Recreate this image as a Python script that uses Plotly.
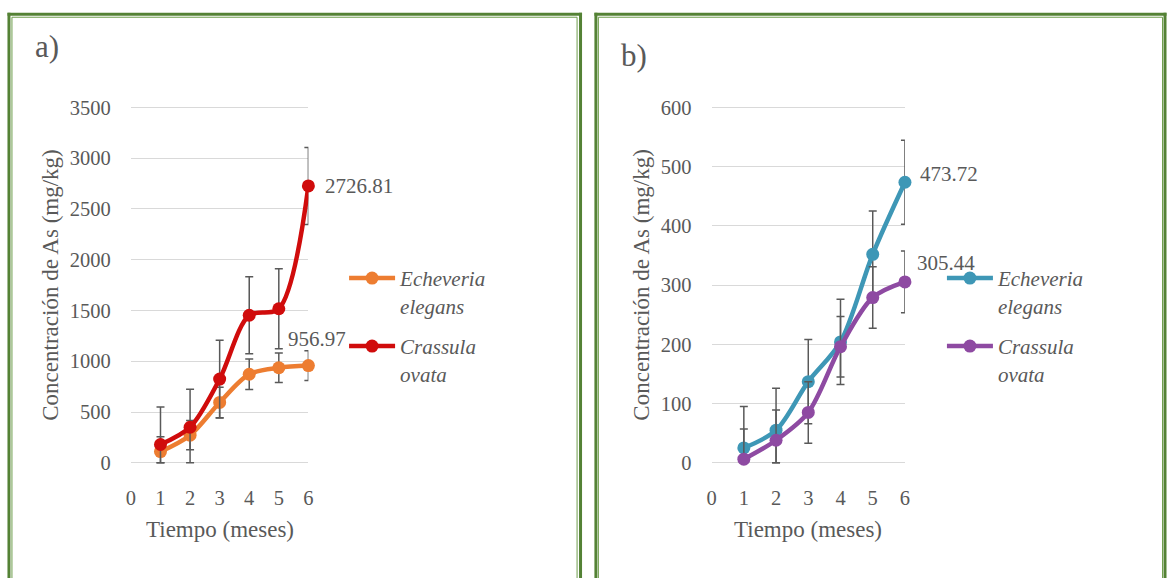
import plotly.graph_objects as go

W, H = 1171, 578

months = [1, 2, 3, 4, 5, 6]
x_ticks = [0, 1, 2, 3, 4, 5, 6]

a_echeveria = [110, 272, 594, 872, 936, 956.97]
a_echeveria_err = [145, 145, 150, 150, 145, 147]
a_crassula = [180, 350, 824, 1453, 1517, 2726.81]
a_crassula_err = [370, 375, 382, 380, 395, 380]

b_echeveria = [25, 55, 137, 204, 352, 473.72]
b_echeveria_err = [70, 71, 71, 72, 73, 71]
b_crassula = [6, 38, 85, 196, 279, 305.44]
b_crassula_err = [51, 51, 52, 51, 52, 52]

a_yticks = [0, 500, 1000, 1500, 2000, 2500, 3000, 3500]
b_yticks = [0, 100, 200, 300, 400, 500, 600]

series_names = ["<i>Echeveria</i><br><i>elegans</i>", "<i>Crassula</i><br><i>ovata</i>"]
y_title = "Concentración de As (mg/kg)"
x_title = "Tiempo (meses)"

FONT = "Liberation Serif"
GREY = "#595959"
C_ORANGE = "#ED7D31"
C_RED = "#D00C0C"
C_BLUE = "#3E97B6"
C_PURPLE = "#8E4AA2"


def px(p):
    return p / W


def py(p):
    return 1 - p / H


fig = go.Figure()


def add_series(y, err, color, name, xa, ya, legend):
    fig.add_trace(go.Scatter(
        x=months, y=y, name=name, mode="lines+markers",
        line=dict(color=color, width=4.5, shape="spline", smoothing=0.9),
        marker=dict(color=color, size=13),
        error_y=dict(type="data", array=err,
                     arrayminus=[min(e, v) for e, v in zip(err, y)],
                     color=GREY, thickness=1.5, width=4),
        xaxis=xa, yaxis=ya, legend=legend, cliponaxis=False,
    ))


add_series(a_echeveria, a_echeveria_err, C_ORANGE, series_names[0], "x", "y", "legend")
add_series(a_crassula, a_crassula_err, C_RED, series_names[1], "x", "y", "legend2")
add_series(b_echeveria, b_echeveria_err, C_BLUE, series_names[0], "x2", "y2", "legend3")
add_series(b_crassula, b_crassula_err, C_PURPLE, series_names[1], "x2", "y2", "legend4")

tickfont = dict(family=FONT, size=20.5, color=GREY)
# 3px of padding so that the gridlines at 0 and at the top are drawn
ydom = [py(470.7), py(99.3)]
pad_a = 3 / 0.1044
pad_b = 3 / 0.609

xcommon = dict(range=[0, 6], tickvals=x_ticks, showgrid=False, zeroline=False,
               showline=False, ticks="outside", ticklen=14,
               tickcolor="rgba(0,0,0,0)", tickfont=tickfont, fixedrange=True)
ycommon = dict(showgrid=True, gridcolor="#D9D9D9", gridwidth=1.3, zeroline=False,
               showline=False, ticks="outside", ticklen=15,
               tickcolor="rgba(0,0,0,0)", tickfont=tickfont, fixedrange=True)

legend_common = dict(xanchor="left", yanchor="top", bgcolor="rgba(0,0,0,0)",
                     font=dict(family=FONT, size=21, color=GREY),
                     valign="top", itemwidth=46, borderwidth=0)

fig.update_layout(
    width=W, height=H, margin=dict(l=0, r=0, t=0, b=0),
    paper_bgcolor="white", plot_bgcolor="white",
    font=dict(family=FONT, color=GREY),
    showlegend=True,
    xaxis=dict(domain=[px(127), px(306)], anchor="y", **xcommon),
    yaxis=dict(domain=ydom, anchor="x", range=[-pad_a, 3500 + pad_a],
               tickvals=a_yticks, **ycommon),
    xaxis2=dict(domain=[px(712.7), px(907.7)], anchor="y2", **xcommon),
    yaxis2=dict(domain=ydom, anchor="x2", range=[-pad_b, 600 + pad_b],
                tickvals=b_yticks, **ycommon),
    legend=dict(x=px(342), y=py(257), **legend_common),
    legend2=dict(x=px(342), y=py(327), **legend_common),
    legend3=dict(x=px(945), y=py(257), **legend_common),
    legend4=dict(x=px(945), y=py(327), **legend_common),
)

ann = []
labfont = dict(family=FONT, size=21, color=GREY)
ann.append(dict(x=months[-1], y=a_crassula[-1], xref="x", yref="y",
                text=f"{a_crassula[-1]:.2f}", showarrow=False, xanchor="left",
                xshift=15, yshift=0, font=labfont))
ann.append(dict(x=months[-1], y=a_echeveria[-1], xref="x", yref="y",
                text=f"{a_echeveria[-1]:.2f}", showarrow=False, xanchor="left",
                xshift=-22, yshift=27, font=labfont))
ann.append(dict(x=months[-1], y=b_echeveria[-1], xref="x2", yref="y2",
                text=f"{b_echeveria[-1]:.2f}", showarrow=False, xanchor="left",
                xshift=13, yshift=8, font=labfont))
ann.append(dict(x=months[-1], y=b_crassula[-1], xref="x2", yref="y2",
                text=f"{b_crassula[-1]:.2f}", showarrow=False, xanchor="left",
                xshift=10, yshift=19, font=labfont))

titlefont = dict(family=FONT, size=23, color=GREY)
for cx, ycx in [(46, 285), (642, 285)]:
    ann.append(dict(x=px(cx), y=py(ycx), xref="paper", yref="paper", text=y_title,
                    textangle=-90, showarrow=False, font=titlefont,
                    xanchor="center", yanchor="middle"))
for cx in [216.5, 810]:
    ann.append(dict(x=px(cx), y=py(536), xref="paper", yref="paper", text=x_title,
                    showarrow=False, font=titlefont, xanchor="center", yanchor="middle"))

panel_font = dict(family=FONT, size=31, color=GREY)
ann.append(dict(x=px(28), y=py(40), xref="paper", yref="paper", text="a)",
                showarrow=False, font=panel_font, xanchor="left", yanchor="middle"))
ann.append(dict(x=px(619), y=py(49), xref="paper", yref="paper", text="b)",
                showarrow=False, font=panel_font, xanchor="left", yanchor="middle"))
fig.update_layout(annotations=ann)

shapes = []
GREEN = "#548235"
GREEN2 = "#6E9E4C"
for (l_out, r_out, l_in, r_in) in [(4, 580.5, 7, 577), (596, 1170, 598.5, 1167.5)]:
    for xv in (l_out, r_out):
        shapes.append(dict(type="line", xref="paper", yref="paper", x0=px(xv), x1=px(xv),
                           y0=py(5), y1=py(600), line=dict(color=GREEN, width=3)))
    shapes.append(dict(type="line", xref="paper", yref="paper", x0=px(l_out - 1.5),
                       x1=px(r_out + 1.5), y0=py(6.5), y1=py(6.5),
                       line=dict(color=GREEN, width=3)))
    for xv in (l_in, r_in):
        shapes.append(dict(type="line", xref="paper", yref="paper", x0=px(xv), x1=px(xv),
                           y0=py(9.5), y1=py(600), line=dict(color=GREEN2, width=1)))
    shapes.append(dict(type="line", xref="paper", yref="paper", x0=px(l_in),
                       x1=px(r_in), y0=py(9.5), y1=py(9.5),
                       line=dict(color=GREEN2, width=1)))
fig.update_layout(shapes=shapes)

fig.write_html("out.html")
